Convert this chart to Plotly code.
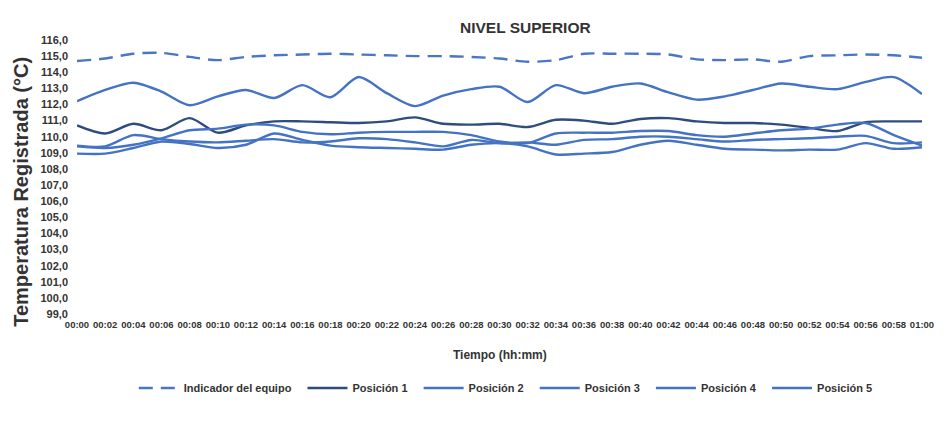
import plotly.graph_objects as go

minutes = list(range(0, 61, 2))
tick_labels = ["00:%02d" % m if m < 60 else "01:00" for m in minutes]

indicador = [114.7, 114.85, 115.15, 115.2, 114.95, 114.75, 114.95, 115.05, 115.1, 115.15,
             115.1, 115.05, 115.0, 115.0, 114.95, 114.85, 114.65, 114.75, 115.15, 115.15,
             115.15, 115.1, 114.8, 114.75, 114.8, 114.65, 115.0, 115.05, 115.1, 115.05, 114.9]
pos1 = [110.7, 110.2, 110.8, 110.4, 111.15, 110.25, 110.7, 110.95, 110.95, 110.9,
        110.85, 110.95, 111.2, 110.8, 110.75, 110.8, 110.6, 111.05, 111.0, 110.8,
        111.1, 111.15, 110.95, 110.85, 110.85, 110.75, 110.55, 110.35, 110.9, 110.95, 110.95]
pos2 = [109.4, 109.3, 109.5, 109.9, 110.4, 110.5, 110.75, 110.7, 110.3, 110.15,
        110.25, 110.3, 110.3, 110.3, 110.1, 109.7, 109.6, 110.2, 110.25, 110.25,
        110.35, 110.35, 110.1, 110.0, 110.2, 110.4, 110.5, 110.75, 110.85, 110.1, 109.45]
pos3 = [109.45, 109.4, 110.1, 109.85, 109.7, 109.65, 109.75, 109.85, 109.65, 109.7,
        109.9, 109.85, 109.65, 109.4, 109.8, 109.6, 109.65, 109.5, 109.8, 109.85,
        110.0, 110.0, 109.85, 109.7, 109.8, 109.85, 109.9, 110.0, 110.05, 109.6, 109.65]
pos4 = [108.95, 108.95, 109.3, 109.7, 109.55, 109.3, 109.5, 110.2, 109.8, 109.45,
        109.35, 109.3, 109.25, 109.2, 109.5, 109.6, 109.4, 108.9, 108.95, 109.05,
        109.5, 109.75, 109.5, 109.25, 109.2, 109.15, 109.2, 109.2, 109.6, 109.25, 109.35]
pos5 = [112.2, 112.9, 113.35, 112.8, 111.95, 112.5, 112.9, 112.4, 113.2, 112.45,
        113.7, 112.7, 111.9, 112.55, 112.95, 113.1, 112.15, 113.2, 112.7, 113.1,
        113.3, 112.75, 112.3, 112.5, 112.9, 113.3, 113.1, 112.95, 113.4, 113.7, 112.65]

y_ticks = list(range(99, 117))
y_tick_labels = ["%d,0" % v for v in y_ticks]

series = [
    ("Indicador del equipo", indicador, "#4A76C4", "14px,8px"),
    ("Posición 1", pos1, "#2F4C7E", "solid"),
    ("Posición 2", pos2, "#4472C4", "solid"),
    ("Posición 3", pos3, "#4472C4", "solid"),
    ("Posición 4", pos4, "#4472C4", "solid"),
    ("Posición 5", pos5, "#4472C4", "solid"),
]

FONT = "Liberation Sans, Arial, sans-serif"
fig = go.Figure()
for name, vals, color, dash in series:
    fig.add_trace(go.Scatter(
        x=minutes, y=vals, name=name + "  ", mode="lines",
        line=dict(color=color, width=2.4, dash=dash, shape="spline", smoothing=0.8),
    ))

fig.update_layout(
    width=945, height=425,
    margin=dict(l=77, r=11, t=40, b=111),
    paper_bgcolor="white", plot_bgcolor="white",
    font=dict(family=FONT, color="#333333", weight="bold"),
    showlegend=True,
    legend=dict(orientation="h", x=0.511, xanchor="center", y=-0.27, yanchor="middle",
                font=dict(size=11, family=FONT, color="#333333", weight="bold"),
                itemwidth=40, tracegroupgap=0),
    xaxis=dict(range=[0, 60], tickmode="array", tickvals=minutes, ticktext=tick_labels,
               showgrid=False, zeroline=False, showline=False, ticks="",
               tickfont=dict(size=9.5, family=FONT, color="#333333", weight="bold"),
               ticklabelstandoff=3, tickangle=0, ticklabeloverflow="allow"),
    yaxis=dict(range=[99, 116], tickmode="array", tickvals=y_ticks, ticktext=y_tick_labels,
               showgrid=False, zeroline=False, showline=False, ticks="",
               tickfont=dict(size=11, family=FONT, color="#333333", weight="bold"),
               ticklabelstandoff=8),
    annotations=[
        dict(text="NIVEL SUPERIOR", x=0.531, y=1.047, xref="paper", yref="paper",
             showarrow=False, font=dict(size=15.5, family=FONT, color="#333333", weight="bold"),
             xanchor="center", yanchor="middle"),
        dict(text="Tiempo (hh:mm)", x=0.5, y=(314 - 355) / 274, xref="paper", yref="paper",
             showarrow=False, font=dict(size=12, family=FONT, color="#333333", weight="bold"),
             xanchor="center", yanchor="middle"),
        dict(text="Temperatura Registrada (°C)", x=(20 - 77) / 857, y=(314 - 192) / 274,
             xref="paper", yref="paper",
             showarrow=False, textangle=-90,
             font=dict(size=20, family=FONT, color="#333333", weight="bold"),
             xanchor="center", yanchor="middle"),
    ],
)

fig.write_html("out.html")
